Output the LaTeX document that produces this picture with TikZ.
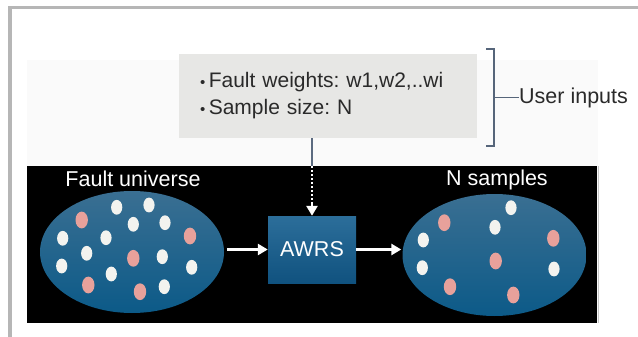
\documentclass[tikz,border=0pt]{standalone}
\usepackage{fontspec}
\setmainfont{Liberation Sans}
\usetikzlibrary{shapes.geometric,arrows.meta}
\definecolor{framegray}{HTML}{B6B6B6}
\definecolor{panelgray}{HTML}{FAFAFA}
\definecolor{boxgray}{HTML}{E7E7E5}
\definecolor{txtgray}{HTML}{2A2A2A}
\definecolor{slate}{HTML}{56657A}
\definecolor{linkgray}{HTML}{5C6B80}
\definecolor{blueTop}{HTML}{3A6F92}
\definecolor{blueBot}{HTML}{0C5A88}
\definecolor{boxTop}{HTML}{2C6E9A}
\definecolor{boxBot}{HTML}{10527F}
\definecolor{dotwhite}{HTML}{F3F3EF}
\definecolor{dotpink}{HTML}{E8A19B}
\tikzset{
  bigfont/.style={font=\fontsize{21.5}{26}\selectfont},
  universe/.style={ellipse, inner sep=0pt, minimum width=184pt, minimum height=122pt,
    top color=blueTop, bottom color=blueBot, draw=none},
  awrsbox/.style={rectangle, inner sep=0pt, minimum width=88pt, minimum height=67pt,
    top color=boxTop, bottom color=boxBot, draw=none, text=white, bigfont},
  whitelabel/.style={text=white, bigfont, inner sep=0pt},
  warrow/.style={draw=white, line width=2.6pt, -{Triangle[length=10pt,width=11pt]}},
  wdots/.style={draw=white, line width=2.6pt, dash pattern=on 2pt off 2pt},
  wdot/.style={fill=dotwhite},
  pdot/.style={fill=dotpink},
}
\begin{document}
\frenchspacing
\begin{tikzpicture}[x=1pt,y=-1pt]
\useasboundingbox (0,0) rectangle (638,337);
\fill[white] (0,0) rectangle (638,337);
% outer frame
\draw[framegray, line width=3.5pt] (10,337) -- (10,7.5) -- (638,7.5);
% light panel
\fill[panelgray] (27,60) rectangle (598,323);
% black panel
\node[fill=black, inner sep=0pt, minimum width=570pt, minimum height=157pt] (panel) at (312,244.5) {};
\draw[gray!45, line width=0.8pt] (598.5,166) -- (598.5,323);
% input box
\node[fill=boxgray, inner sep=0pt, minimum width=298pt, minimum height=84pt,
      text=txtgray, align=left, text width=256pt,
      font=\fontsize{21}{27}\selectfont] (gb) at (328,96)
  {{\fontsize{15}{15}\selectfont•}\,Fault weights: w1,w2,..wi\\[0pt]
   {\fontsize{15}{15}\selectfont•}\,Sample size: N\\[3pt]};
% bracket
\coordinate (bt) at (494,49);
\coordinate (bb) at (494,146);
\coordinate (bm) at (494,97.5);
\draw[slate, line width=1.2pt] (486,49) -- (bt) -- (bb) -- (486,146);
\node[text=txtgray, font=\fontsize{21.5}{26}\selectfont, anchor=west, inner sep=0pt] (ui) at (519,97.5) {User inputs};
\draw[slate, line width=1.2pt] (bm) -- (ui.west);
% ellipses
\node[universe] (fu) at (132,252) {};
\node[universe] (ns) at (494.5,255) {};
\node[whitelabel] (fulab) at (133,179) {Fault universe};
\node[whitelabel] (nslab) at (497,180) {N samples};
% AWRS
\node[awrsbox] (awrs) at (312,249.5) {AWRS};
% connectors
\draw[linkgray, line width=2.5pt] (awrs.north |- gb.south) -- (awrs.north |- panel.north);
\coordinate (dotend) at (312,203);
\draw[wdots] (awrs.north |- panel.north) -- (dotend);
\draw[warrow] (dotend) -- (awrs.north);
\draw[warrow] ([xshift=3pt]fu.east |- awrs.west) -- (awrs.west);
\draw[warrow] (awrs.east) -- ([xshift=-1pt]ns.west |- awrs.east);
% dots: left ellipse
\foreach \x/\y in {116.7/207.3, 149/205, 133.3/224.3, 165/222.7, 62.7/238.3, 106/237.7,
                   86.7/253.3, 162.3/256.7, 61.7/266, 111.3/274, 191.7/267.3, 164.3/286.7}
  \fill[wdot] (\x,\y) ellipse [x radius=5.6pt, y radius=7.4pt];
\foreach \x/\y in {81.7/220, 190/236, 133.3/258.3, 88.3/285, 140/291.7}
  \fill[pdot] (\x,\y) ellipse [x radius=6.2pt, y radius=8.4pt];
% dots: right ellipse
\foreach \x/\y in {511/207.7, 495/227.3, 423.3/240, 422.3/267.7, 554/269}
  \fill[wdot] (\x,\y) ellipse [x radius=5.6pt, y radius=7.4pt];
\foreach \x/\y in {444.3/222.7, 553.3/238.3, 495.7/261, 450/286.7, 513.3/295}
  \fill[pdot] (\x,\y) ellipse [x radius=6.2pt, y radius=8.4pt];
\end{tikzpicture}
\end{document}
